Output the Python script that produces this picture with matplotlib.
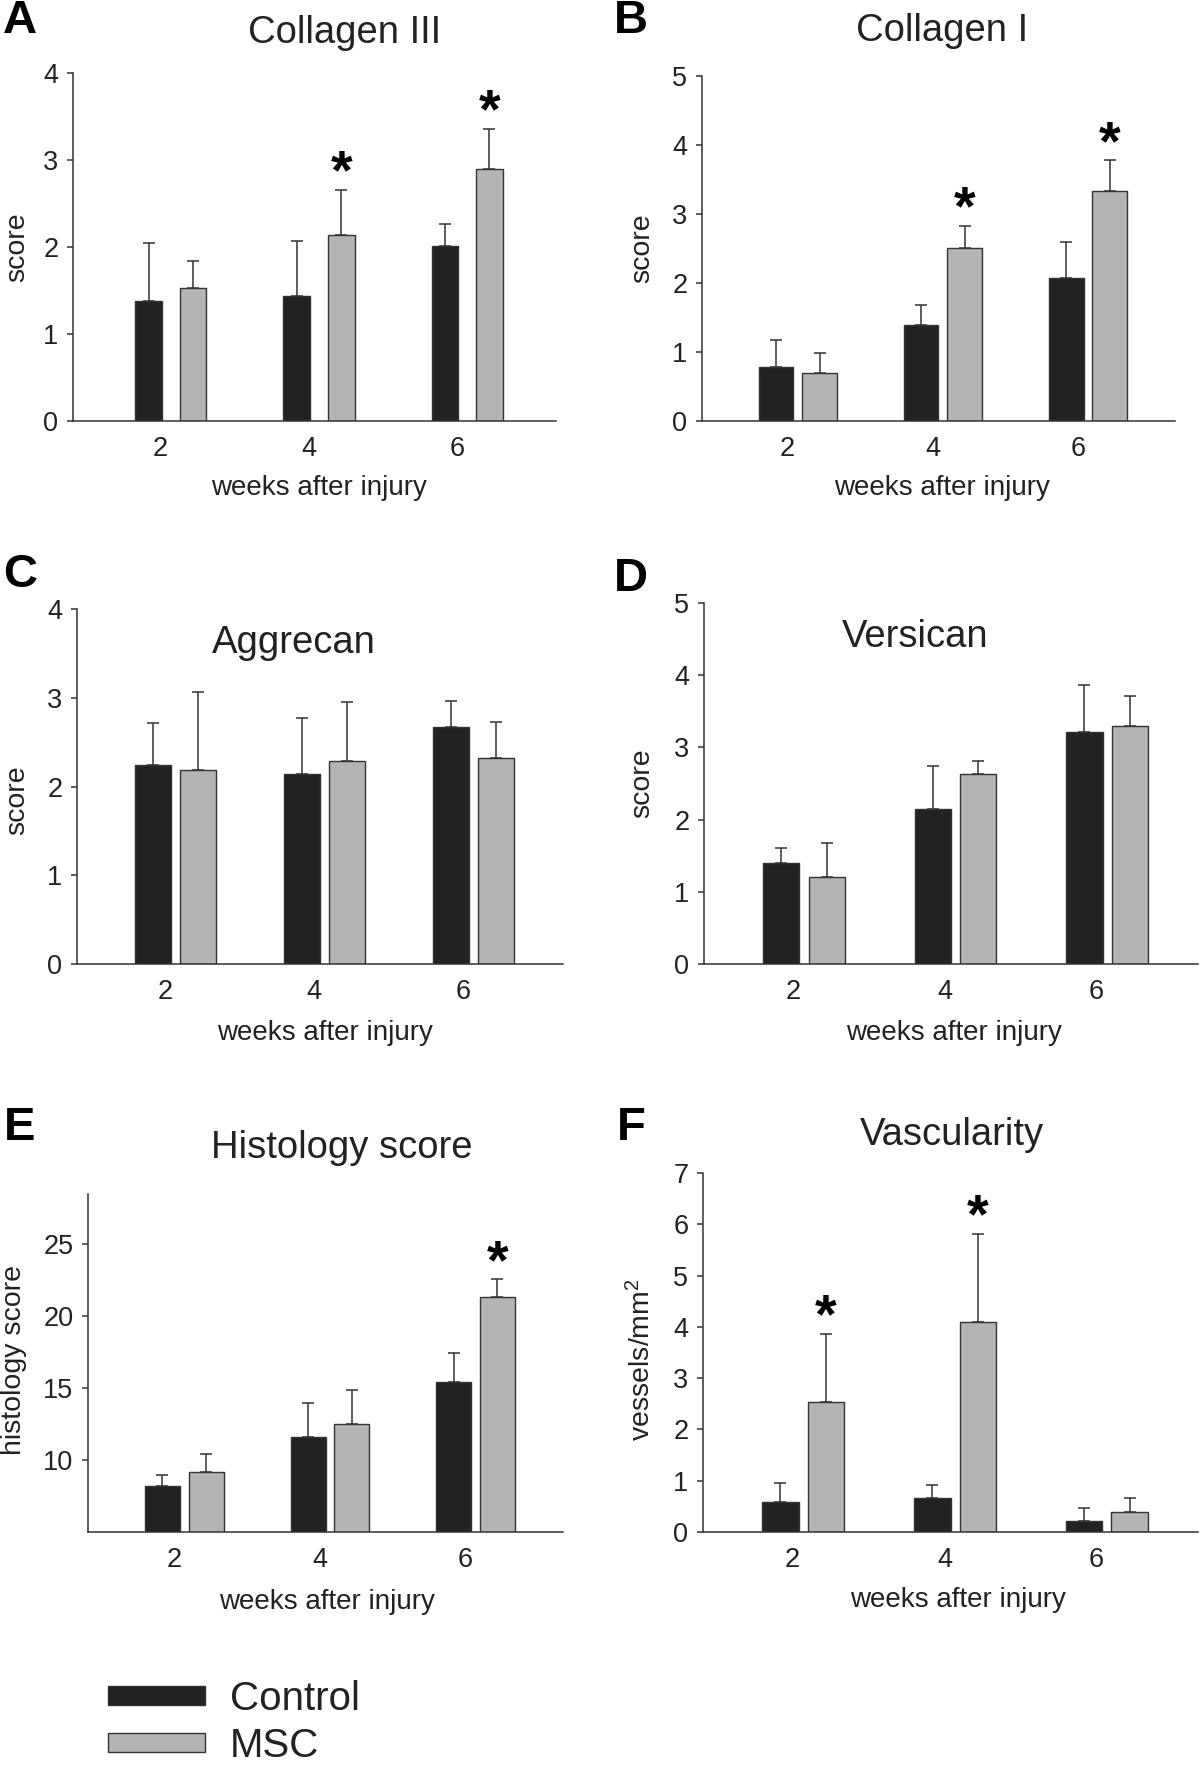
import matplotlib

matplotlib.use("Agg")

import matplotlib.pyplot as plt
import numpy as np
from matplotlib.patches import Patch

plt.rcParams["font.family"] = ["Liberation Sans", "DejaVu Sans"]
plt.rcParams["mathtext.default"] = "regular"

W, H = 1200, 1767

weeks = ["2", "4", "6"]

col3_control = [1.38, 1.44, 2.01]
col3_control_err = [0.67, 0.63, 0.25]
col3_msc = [1.53, 2.14, 2.90]
col3_msc_err = [0.31, 0.52, 0.46]
col3_sig = [False, True, True]

col1_control = [0.78, 1.39, 2.07]
col1_control_err = [0.40, 0.29, 0.52]
col1_msc = [0.70, 2.50, 3.34]
col1_msc_err = [0.28, 0.33, 0.44]
col1_sig = [False, True, True]

agg_control = [2.24, 2.14, 2.67]
agg_control_err = [0.47, 0.63, 0.29]
agg_msc = [2.19, 2.29, 2.32]
agg_msc_err = [0.88, 0.66, 0.41]
agg_sig = [False, False, False]

ver_control = [1.40, 2.14, 3.21]
ver_control_err = [0.21, 0.60, 0.65]
ver_msc = [1.20, 2.63, 3.29]
ver_msc_err = [0.47, 0.18, 0.42]
ver_sig = [False, False, False]

hist_control = [8.21, 11.63, 15.44]
hist_control_err = [0.74, 2.37, 2.03]
hist_msc = [9.16, 12.51, 21.33]
hist_msc_err = [1.26, 2.33, 1.25]
hist_sig = [False, False, True]

vasc_control = [0.58, 0.67, 0.21]
vasc_control_err = [0.37, 0.25, 0.25]
vasc_msc = [2.54, 4.09, 0.39]
vasc_msc_err = [1.32, 1.73, 0.28]
vasc_sig = [True, True, False]

CONTROL_COLOR = "#222222"
MSC_COLOR = "#b4b4b4"
EDGE = "#333333"
TEXT = "#222222"


def fig_xy(x, y):
    return x / W, 1 - y / H


def draw_panel(fig, box, control, control_err, msc, msc_err, sig, ylim, yticks,
               bar_width, title, title_xy, ylabel, ylabel_xy, xlabel_xy,
               letter, letter_xy):
    left, right, top, bottom = box
    ax = fig.add_axes([left / W, 1 - bottom / H, (right - left) / W, (bottom - top) / H])
    x = np.arange(len(weeks))
    ax.bar(x - 0.08, control, bar_width, color=CONTROL_COLOR, edgecolor=EDGE,
           linewidth=1.0, zorder=2)
    ax.bar(x + 0.22, msc, bar_width, color=MSC_COLOR, edgecolor=EDGE,
           linewidth=1.0, zorder=2)
    ax.errorbar(x - 0.08, control, yerr=[np.zeros(3), control_err], fmt="none",
                ecolor=EDGE, elinewidth=1.1, capsize=4, capthick=1.1, zorder=1)
    ax.errorbar(x + 0.22, msc, yerr=[np.zeros(3), msc_err], fmt="none",
                ecolor=EDGE, elinewidth=1.1, capsize=4, capthick=1.1, zorder=1)
    for i, flag in enumerate(sig):
        if flag:
            ax.annotate("*", xy=(x[i] + 0.22, msc[i] + msc_err[i]),
                        xytext=(0, 11), textcoords="offset points",
                        ha="center", va="center", fontsize=40,
                        fontweight="bold", color="black")

    ax.set_xlim(-0.59, 2.67)
    ax.set_ylim(*ylim)
    ax.set_yticks(yticks)
    ax.set_xticks(x)
    ax.set_xticklabels(weeks)
    for side in ["top", "right"]:
        ax.spines[side].set_visible(False)
    for side in ["left", "bottom"]:
        ax.spines[side].set_color(EDGE)
        ax.spines[side].set_linewidth(1.1)
    ax.tick_params(axis="y", direction="out", length=4.5, width=1.1,
                   color=EDGE, labelsize=19.5, labelcolor=TEXT, pad=6)
    ax.tick_params(axis="x", length=0, labelsize=19.5, labelcolor=TEXT, pad=11)
    ax.patch.set_alpha(0)

    fig.text(*fig_xy(*title_xy), title, ha="center", va="center",
             fontsize=27.5, color=TEXT)
    fig.text(*fig_xy(*ylabel_xy), ylabel, ha="center", va="center",
             rotation=90, fontsize=20.5, color=TEXT)
    fig.text(*fig_xy(*xlabel_xy), "weeks after injury", ha="center",
             va="center", fontsize=20, color=TEXT)
    fig.text(*fig_xy(*letter_xy), letter, ha="center", va="center",
             fontsize=34, fontweight="bold", color="black")
    return ax


fig = plt.figure(figsize=(W / 100, H / 100), dpi=100)

draw_panel(fig, (73, 556, 73, 421), col3_control, col3_control_err, col3_msc,
           col3_msc_err, col3_sig, (0, 4), [0, 1, 2, 3, 4], 0.18,
           "Collagen III", (345, 33), "score", (17, 247), (319, 488),
           "A", (20, 21))
draw_panel(fig, (702, 1175, 76, 421), col1_control, col1_control_err, col1_msc,
           col1_msc_err, col1_sig, (0, 5), [0, 1, 2, 3, 4, 5], 0.24,
           "Collagen I", (942, 31), "score", (642, 248), (942, 488),
           "B", (631, 21))
draw_panel(fig, (77, 563, 609, 964), agg_control, agg_control_err, agg_msc,
           agg_msc_err, agg_sig, (0, 4), [0, 1, 2, 3, 4], 0.24,
           "Aggrecan", (294, 643), "score", (17, 800), (325, 1033),
           "C", (20, 575))
draw_panel(fig, (704, 1198, 603, 964), ver_control, ver_control_err, ver_msc,
           ver_msc_err, ver_sig, (0, 5), [0, 1, 2, 3, 4, 5], 0.24,
           "Versican", (915, 637), "score", (642, 783), (954, 1033),
           "D", (631, 579))
draw_panel(fig, (88, 563, 1194, 1532), hist_control, hist_control_err, hist_msc,
           hist_msc_err, hist_sig, (5, 28.5), [10, 15, 20, 25], 0.24,
           "Histology score", (342, 1148), "histology score", (14, 1360),
           (327, 1602), "E", (20, 1128))
draw_panel(fig, (703, 1198, 1173, 1532), vasc_control, vasc_control_err, vasc_msc,
           vasc_msc_err, vasc_sig, (0, 7), [0, 1, 2, 3, 4, 5, 6, 7], 0.24,
           "Vascularity", (952, 1135), "vessels/mm$^2$", (642, 1360),
           (958, 1600), "F", (631, 1128))

handles = [
    Patch(facecolor=CONTROL_COLOR, edgecolor=EDGE, linewidth=1.0, label="Control"),
    Patch(facecolor=MSC_COLOR, edgecolor=EDGE, linewidth=1.0, label="MSC"),
]
fig.legend(handles=handles, loc="upper left", bbox_to_anchor=fig_xy(108, 1680),
           frameon=False, fontsize=29, handlelength=2.4, handleheight=0.38,
           handletextpad=0.62, labelspacing=0.22, borderpad=0, borderaxespad=0,
           labelcolor=TEXT)

fig.savefig("out.png", dpi=100)
